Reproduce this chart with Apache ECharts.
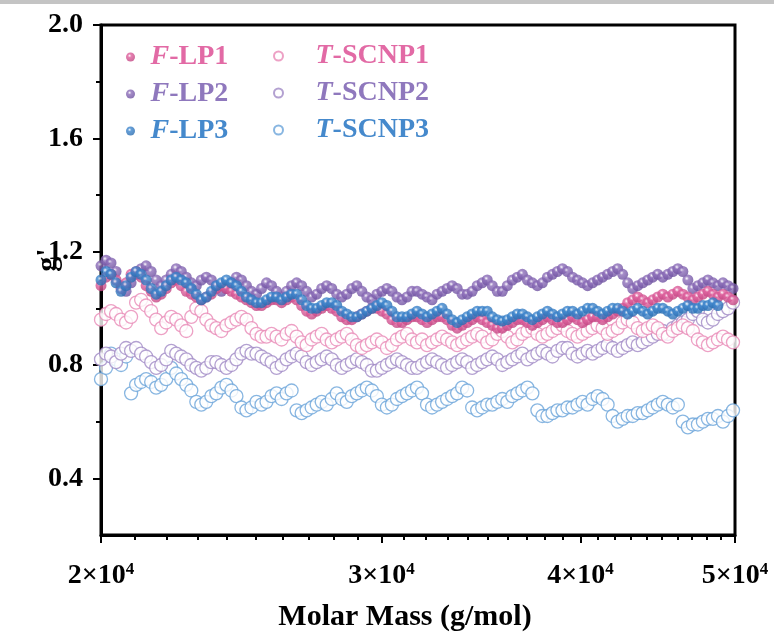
<!DOCTYPE html>
<html><head><meta charset="utf-8">
<script src="https://cdn.jsdelivr.net/npm/echarts@6/dist/echarts.min.js"></script>
<style>html,body{margin:0;padding:0;background:#fff}#c{width:779px;height:634px}</style>
</head><body><div id="c"></div>
<script>
// Molar mass sampling (g/mol), shared by all traces
const molarMass = [
20000,20146,20292,20440,20588,20738,20889,21041,21194,21348,
21504,21660,21818,21977,22137,22298,22460,22623,22788,22954,
23120,23288,23458,23628,23801,23974,24149,24324,24501,24679,
24859,25040,25222,25405,25590,25777,25964,26153,26343,26535,
26728,26922,27118,27316,27514,27714,27916,28119,28324,28530,
28738,28947,29157,29369,29583,29798,30015,30233,30453,30675,
30898,31123,31349,31577,31807,32038,32272,32506,32743,32981,
33221,33463,33706,33951,34198,34447,34698,34950,35205,35461,
35719,35979,36241,36504,36770,37038,37307,37578,37851,38126,
38404,38683,38965,39248,39534,39822,40112,40404,40698,40994,
41292,41592,41895,42200,42507,42816,43128,43442,43757,44075,
44396,44719,45045,45373,45703,46035,46370,46707,47047,47389,
47734,48081,48431,48783,49139,49497,49857];

const gF_LP1 = [
1.08,1.11,1.12,1.10,1.07,1.09,1.12,1.13,1.11,1.08,
1.06,1.04,1.05,1.07,1.09,1.10,1.08,1.06,1.05,1.04,
1.03,1.04,1.05,1.07,1.08,1.07,1.06,1.05,1.04,1.03,
1.02,1.01,1.01,1.02,1.03,1.03,1.02,1.03,1.04,1.03,
1.01,0.99,0.98,0.99,1.00,1.01,1.00,0.99,0.97,0.96,
0.96,0.97,0.98,0.99,1.00,1.00,0.99,0.98,0.96,0.95,
0.95,0.96,0.97,0.97,0.96,0.95,0.96,0.97,0.97,0.96,
0.94,0.93,0.94,0.95,0.96,0.97,0.96,0.95,0.94,0.93,
0.93,0.94,0.95,0.96,0.96,0.95,0.94,0.95,0.96,0.97,
0.96,0.95,0.95,0.96,0.97,0.96,0.95,0.96,0.97,0.97,
0.96,0.97,0.98,0.99,1.00,1.02,1.03,1.04,1.03,1.02,
1.03,1.04,1.05,1.04,1.05,1.06,1.05,1.04,1.03,1.04,
1.05,1.06,1.05,1.04,1.05,1.04,1.03];

const gF_LP2 = [
1.15,1.17,1.16,1.13,1.08,1.06,1.09,1.12,1.14,1.15,
1.13,1.10,1.08,1.10,1.12,1.14,1.13,1.11,1.09,1.08,
1.10,1.11,1.10,1.08,1.06,1.07,1.09,1.11,1.10,1.08,
1.06,1.05,1.07,1.09,1.08,1.06,1.04,1.06,1.08,1.09,
1.08,1.06,1.04,1.05,1.07,1.08,1.07,1.05,1.04,1.05,
1.07,1.08,1.06,1.04,1.03,1.05,1.06,1.07,1.06,1.04,
1.03,1.04,1.06,1.06,1.05,1.04,1.03,1.05,1.06,1.07,
1.08,1.07,1.05,1.05,1.06,1.08,1.09,1.10,1.08,1.06,
1.06,1.08,1.10,1.11,1.12,1.10,1.09,1.08,1.09,1.11,
1.12,1.13,1.14,1.13,1.11,1.10,1.09,1.08,1.09,1.10,
1.11,1.12,1.13,1.14,1.12,1.09,1.07,1.08,1.09,1.10,
1.11,1.12,1.11,1.12,1.13,1.14,1.13,1.10,1.07,1.08,
1.09,1.10,1.09,1.08,1.09,1.08,1.07];

const gF_LP3 = [
1.10,1.13,1.12,1.09,1.06,1.08,1.11,1.13,1.12,1.10,
1.07,1.05,1.06,1.08,1.10,1.11,1.10,1.09,1.07,1.05,
1.03,1.04,1.06,1.08,1.09,1.10,1.09,1.08,1.06,1.04,
1.03,1.02,1.02,1.03,1.04,1.04,1.03,1.04,1.05,1.05,
1.03,1.01,1.00,1.00,1.01,1.02,1.02,1.01,0.99,0.98,
0.97,0.97,0.98,0.99,1.00,1.01,1.02,1.01,0.99,0.97,
0.97,0.97,0.98,0.99,0.98,0.97,0.98,0.99,1.00,0.98,
0.96,0.95,0.96,0.97,0.98,0.99,0.99,0.99,0.97,0.96,
0.955,0.96,0.97,0.98,0.98,0.97,0.96,0.97,0.98,0.99,
0.98,0.97,0.98,0.99,0.99,0.98,0.99,1.00,1.00,0.99,
0.98,0.99,1.00,1.00,0.99,0.98,0.99,1.00,0.99,0.98,
0.99,1.00,1.00,0.99,0.98,0.99,1.00,1.01,1.00,1.00,
1.01,1.01,1.02,1.01];

const gT_SCNP1 = [
0.96,0.98,0.99,0.98,0.96,0.95,0.97,1.02,1.03,1.01,
0.99,0.96,0.93,0.95,0.97,0.96,0.94,0.92,0.97,1.00,
0.99,0.96,0.94,0.93,0.92,0.94,0.95,0.96,0.97,0.96,
0.93,0.91,0.90,0.90,0.91,0.90,0.89,0.91,0.92,0.90,
0.88,0.87,0.89,0.90,0.91,0.89,0.88,0.89,0.90,0.91,
0.89,0.87,0.86,0.87,0.88,0.89,0.88,0.86,0.87,0.89,
0.90,0.91,0.89,0.88,0.89,0.87,0.88,0.89,0.90,0.89,
0.88,0.87,0.88,0.89,0.90,0.91,0.90,0.88,0.89,0.91,
0.92,0.90,0.88,0.89,0.91,0.92,0.93,0.91,0.90,0.91,
0.92,0.93,0.94,0.92,0.91,0.90,0.91,0.92,0.93,0.94,
0.93,0.91,0.92,0.93,0.95,0.96,0.95,0.93,0.92,0.93,
0.94,0.93,0.91,0.90,0.92,0.93,0.94,0.93,0.92,0.89,
0.88,0.87,0.88,0.89,0.90,0.89,0.88];

const gT_SCNP2 = [
0.82,0.84,0.83,0.81,0.84,0.86,0.85,0.86,0.84,0.83,
0.81,0.79,0.80,0.82,0.85,0.84,0.83,0.82,0.80,0.79,
0.78,0.79,0.81,0.81,0.80,0.79,0.80,0.82,0.84,0.85,
0.84,0.84,0.83,0.82,0.81,0.79,0.80,0.82,0.83,0.84,
0.83,0.81,0.80,0.81,0.82,0.83,0.82,0.80,0.79,0.80,
0.81,0.82,0.81,0.80,0.78,0.78,0.79,0.80,0.81,0.82,
0.81,0.80,0.79,0.79,0.80,0.81,0.82,0.81,0.80,0.79,
0.80,0.81,0.82,0.81,0.79,0.80,0.81,0.82,0.83,0.82,
0.80,0.81,0.82,0.83,0.84,0.82,0.83,0.84,0.85,0.84,
0.83,0.85,0.86,0.86,0.84,0.83,0.84,0.85,0.84,0.85,
0.86,0.87,0.86,0.85,0.86,0.87,0.88,0.87,0.88,0.89,
0.90,0.91,0.92,0.91,0.93,0.94,0.95,0.96,0.98,0.99,
0.96,0.95,0.96,0.98,0.99,1.00,1.02];

const gT_SCNP3 = [
0.75,0.79,0.84,0.82,0.80,0.83,0.70,0.73,0.74,0.75,
0.74,0.72,0.73,0.75,0.79,0.77,0.75,0.73,0.71,0.67,
0.66,0.67,0.69,0.70,0.72,0.73,0.71,0.69,0.65,0.64,
0.65,0.67,0.66,0.67,0.69,0.70,0.68,0.70,0.71,0.64,
0.63,0.64,0.65,0.66,0.67,0.66,0.68,0.70,0.68,0.67,
0.69,0.70,0.71,0.72,0.71,0.69,0.66,0.65,0.66,0.68,
0.69,0.70,0.71,0.72,0.70,0.66,0.65,0.66,0.67,0.68,
0.69,0.70,0.72,0.71,0.65,0.64,0.65,0.66,0.66,0.67,
0.68,0.67,0.69,0.70,0.71,0.72,0.70,0.64,0.62,0.62,
0.63,0.64,0.64,0.65,0.65,0.66,0.67,0.66,0.68,0.69,
0.68,0.66,0.62,0.60,0.61,0.62,0.62,0.63,0.63,0.64,
0.65,0.66,0.67,0.66,0.65,0.66,0.60,0.58,0.59,0.59,
0.60,0.61,0.61,0.62,0.60,0.62,0.64];

const xMin = 20000, xMax = 50000;
const xTickValues = [20000, 30000, 40000, 50000];
const xTickLabels = ['2', '3', '4', '5'];
const xMinorTicks = [21000,22000,23000,24000,25000,26000,27000,28000,29000,
  31000,32000,33000,34000,35000,36000,37000,38000,39000,
  41000,42000,43000,44000,45000,46000,47000,48000,49000];
const yTickValues = [0.4, 0.8, 1.2, 1.6, 2.0];
const yTickLabels = ['0.4', '0.8', '1.2', '1.6', '2.0'];
const yMinorTicks = [0.6, 1.0, 1.4, 1.8];

const FONT = "'Liberation Serif', 'Times New Roman', serif";
const pinkF = '#e0609e', purpleF = '#8e6fba', blueF = '#3e87cf';
const pinkD = '#c24582', purpleD = '#6e51a0', blueD = '#2a6cb0';
const pinkH = '#e889b7', purpleH = '#a089c6', blueH = '#6aa4da';
const pinkT = '#e26aa5', purpleT = '#8f78bd', blueT = '#4589cc';
const LFS = 28;

function sphere(c, d) {
  return {type:'radial', x:0.4, y:0.36, r:0.64, colorStops:[
    {offset:0, color:'#ffffff'}, {offset:0.3, color:c}, {offset:1, color:d}]};
}
function pairs(ys) { return ys.map((y, i) => [molarMass[i], y]); }

function filled(name, ys, c, d) {
  return {name, type:'scatter', xAxisIndex:0, yAxisIndex:0, data:pairs(ys), symbol:'circle', symbolSize:11,
    itemStyle:{color:sphere(c, d), borderWidth:0}, emphasis:{disabled:true}, silent:true};
}
function hollow(name, ys, c) {
  return {name, type:'scatter', xAxisIndex:0, yAxisIndex:0, data:pairs(ys), symbol:'circle', symbolSize:13,
    itemStyle:{color:'#ffffff', borderColor:c, borderWidth:1.3}, emphasis:{disabled:true}, silent:true};
}

const legendRich = {};
[[1, pinkT], [2, purpleT], [3, blueT]].forEach(([i, c]) => {
  legendRich['i' + i] = {color:c, fontStyle:'italic', fontWeight:'bold', fontSize:LFS, fontFamily:FONT, lineHeight:27};
  legendRich['n' + i] = {color:c, fontWeight:'bold', fontSize:LFS, fontFamily:FONT, lineHeight:27};
});
function legendFmt(name) {
  const i = name.slice(-1);
  const idx = name.indexOf('-');
  return '{i' + i + '|' + name.slice(0, idx) + '}{n' + i + '|' + name.slice(idx) + '}';
}
const legendBase = {orient:'vertical', padding:0, itemHeight:9, itemGap:9, selectedMode:false,
  formatter:legendFmt, textStyle:{fontSize:LFS, lineHeight:27, fontWeight:'bold', fontFamily:FONT, rich:legendRich}};

const axisText = {color:'#000', fontWeight:'bold', fontFamily:FONT};

// tick-only axes share the log axis geometry in log10 units
function tickAxisX(values, len) {
  return {type:'value', min:Math.log10(xMin), max:Math.log10(xMax), position:'bottom',
    axisLine:{show:false}, axisLabel:{show:false}, splitLine:{show:false},
    axisTick:{show:true, inside:false, length:len, lineStyle:{color:'#000', width:2},
      customValues:values.map(v => Math.log10(v))}};
}

const option = {
  animation:false,
  backgroundColor:'#ffffff',
  graphic:[{type:'rect', shape:{x:0, y:0, width:774, height:4}, style:{fill:'#c4c4c4'}, silent:true}],
  grid:{left:101, right:44, top:25, bottom:99, show:true, borderColor:'#000', borderWidth:3,
    backgroundColor:'transparent', containLabel:false, outerBoundsMode:'none'},
  legend:[
    Object.assign({}, legendBase, {left:126, top:43, itemWidth:30, data:['F-LP1','F-LP2','F-LP3']}),
    Object.assign({}, legendBase, {left:273, top:42, itemWidth:64, data:['T-SCNP1','T-SCNP2','T-SCNP3']})
  ],
  xAxis:[
    {type:'log', logBase:10, min:xMin, max:xMax, position:'bottom',
      axisLine:{show:true, onZero:false, lineStyle:{color:'#000', width:3}},
      axisTick:{show:false},
      axisLabel:{show:true, margin:26, customValues:xTickValues,
        formatter:function (v) {
          let best = 0;
          xTickValues.forEach((t, i) => { if (Math.abs(t - v) < Math.abs(xTickValues[best] - v)) best = i; });
          return '{b|' + xTickLabels[best] + '×10}{s|4}';
        },
        rich:{b:Object.assign({fontSize:28, lineHeight:30}, axisText), s:Object.assign({fontSize:17, lineHeight:14, verticalAlign:'top'}, axisText)}},
      splitLine:{show:false}, minorTick:{show:false},
      name:'Molar Mass (g/mol)', nameLocation:'middle', nameGap:67, nameMoveOverlap:false,
      nameTextStyle:Object.assign({fontSize:30, padding:[0, 26, 0, 0]}, axisText)},
    tickAxisX(xTickValues, 8),
    tickAxisX(xMinorTicks, 5)
  ],
  yAxis:[
    {type:'value', min:0.2, max:2.0, position:'left',
      axisLine:{show:true, onZero:false, lineStyle:{color:'#000', width:3}},
      axisTick:{show:true, inside:false, length:8, lineStyle:{color:'#000', width:2}, customValues:yTickValues},
      axisLabel:Object.assign({show:true, margin:18, fontSize:28, customValues:yTickValues,
        formatter:function (v) {
          let best = 0;
          yTickValues.forEach((t, i) => { if (Math.abs(t - v) < Math.abs(yTickValues[best] - v)) best = i; });
          return yTickLabels[best];
        }}, axisText),
      splitLine:{show:false},
      name:"g'", nameLocation:'middle', nameGap:38, nameRotate:90, nameMoveOverlap:false,
      nameTextStyle:Object.assign({fontSize:30, padding:[0, 0, 0, 40]}, axisText)},
    {type:'value', min:0.2, max:2.0, position:'left',
      axisLine:{show:false}, axisLabel:{show:false}, splitLine:{show:false},
      axisTick:{show:true, inside:false, length:5, lineStyle:{color:'#000', width:2}, customValues:yMinorTicks}}
  ],
  series:[
    hollow('T-SCNP3', gT_SCNP3, blueH),
    hollow('T-SCNP2', gT_SCNP2, purpleH),
    hollow('T-SCNP1', gT_SCNP1, pinkH),
    filled('F-LP2', gF_LP2, purpleF, purpleD),
    filled('F-LP1', gF_LP1, pinkF, pinkD),
    filled('F-LP3', gF_LP3, blueF, blueD)
  ]
};
const chart = echarts.init(document.getElementById('c'), null, {renderer:'canvas'});
chart.setOption(option);
</script>
</body></html>
